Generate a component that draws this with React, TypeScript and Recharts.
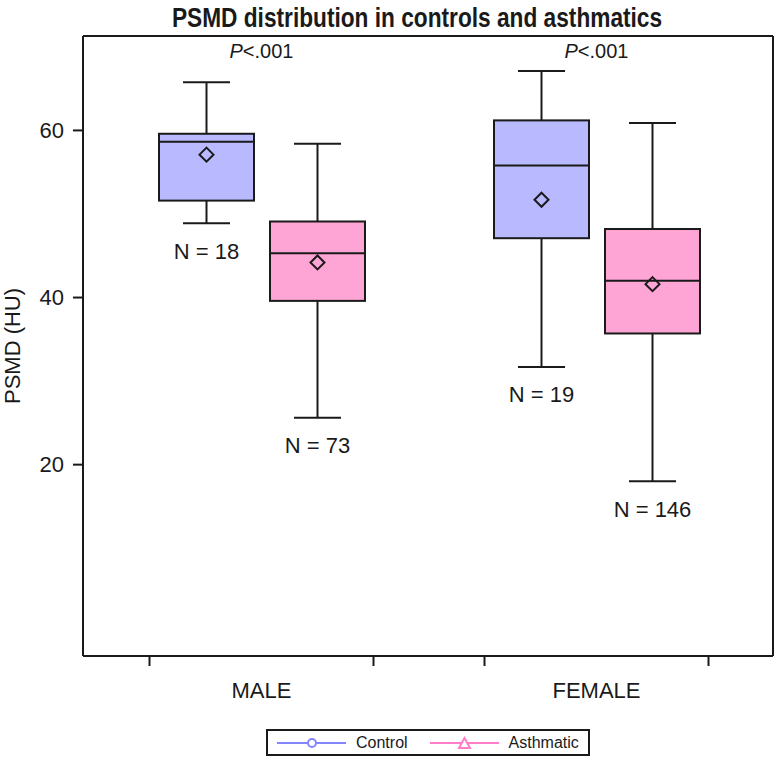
import React from "react";
import { Bar, ComposedChart, Legend, Line, XAxis, YAxis } from "recharts";

const groups = ["MALE", "FEMALE"];
const pLabels = [".001", ".001"];
const seriesNames = ["Control", "Asthmatic"];
const seriesFill = ["#B9B9FF", "#FFA5D5"];
const seriesLine = ["#8585FF", "#FF7DC9"];

const controlMin = [48.9, 31.7];
const controlQ1 = [51.6, 47.1];
const controlMedian = [58.65, 55.8];
const controlQ3 = [59.6, 61.2];
const controlMax = [65.75, 67.1];
const controlMean = [57.1, 51.7];
const controlN = [18, 19];

const asthmaMin = [25.6, 18.0];
const asthmaQ1 = [39.6, 35.7];
const asthmaMedian = [45.3, 42.0];
const asthmaQ3 = [49.1, 48.2];
const asthmaMax = [58.4, 60.9];
const asthmaMean = [44.2, 41.6];
const asthmaN = [73, 146];

const yTicks = [20, 40, 60];

const FONT = "'Liberation Sans', Arial, Helvetica, sans-serif";
const INK = "#1a1a1a";

const data = groups.map((sex, i) => ({
  sex,
  p: pLabels[i],
  control: {
    min: controlMin[i], q1: controlQ1[i], median: controlMedian[i],
    q3: controlQ3[i], max: controlMax[i], mean: controlMean[i], n: controlN[i],
  },
  asthmatic: {
    min: asthmaMin[i], q1: asthmaQ1[i], median: asthmaMedian[i],
    q3: asthmaQ3[i], max: asthmaMax[i], mean: asthmaMean[i], n: asthmaN[i],
  },
}));

const BoxShape = (props: any) => {
  const { x, y, width, height, payload, seriesKey, fill } = props;
  const s = payload[seriesKey];
  const top = Math.min(y, y + height);
  const bottom = Math.max(y, y + height);
  // linear scale between whisker ends, same as the axis scale
  const sy = (v: number) => top + ((bottom - top) * (s.max - v)) / (s.max - s.min);
  const cx = x + width / 2;
  const cap = 23.5;
  const d = 7;
  const my = sy(s.mean);
  return (
    <g>
      <line x1={cx} x2={cx} y1={sy(s.max)} y2={sy(s.q3)} stroke={INK} strokeWidth={2} />
      <line x1={cx} x2={cx} y1={sy(s.q1)} y2={sy(s.min)} stroke={INK} strokeWidth={2} />
      <line x1={cx - cap} x2={cx + cap} y1={sy(s.max)} y2={sy(s.max)} stroke={INK} strokeWidth={2} />
      <line x1={cx - cap} x2={cx + cap} y1={sy(s.min)} y2={sy(s.min)} stroke={INK} strokeWidth={2} />
      <rect x={x} y={sy(s.q3)} width={width} height={sy(s.q1) - sy(s.q3)} fill={fill} stroke={INK} strokeWidth={2} />
      <line x1={x} x2={x + width} y1={sy(s.median)} y2={sy(s.median)} stroke={INK} strokeWidth={2} />
      <polygon
        points={`${cx},${my - d} ${cx + d},${my} ${cx},${my + d} ${cx - d},${my}`}
        fill="none"
        stroke={INK}
        strokeWidth={2}
      />
      <text x={cx} y={sy(s.min) + 28} textAnchor="middle" dominantBaseline="central" fontSize={22} fontFamily={FONT} fill={INK}>
        N = {s.n}
      </text>
    </g>
  );
};

const BottomTick = (props: any) => {
  const { x, y, payload } = props;
  return (
    <g>
      <line x1={x - 112} x2={x - 112} y1={y - 10} y2={y} stroke={INK} strokeWidth={2} />
      <line x1={x + 112} x2={x + 112} y1={y - 10} y2={y} stroke={INK} strokeWidth={2} />
      <text x={x} y={y + 24} textAnchor="middle" dominantBaseline="central" fontSize={22} fontFamily={FONT} fill={INK}>
        {payload.value}
      </text>
    </g>
  );
};

const TopTick = (props: any) => {
  const { x, y, index } = props;
  return (
    <text x={x} y={y + 15} textAnchor="middle" dominantBaseline="central" fontSize={20} fontFamily={FONT} fill={INK}>
      <tspan fontStyle="italic">P</tspan>
      {"<" + pLabels[index]}
    </text>
  );
};

const LegendContent = (props: any) => {
  const payload = (props.payload ?? [])
    .filter((p: any) => seriesNames.includes(p.value))
    .sort((a: any, b: any) => seriesNames.indexOf(a.value) - seriesNames.indexOf(b.value));
  return (
    <div
      style={{
        boxSizing: "border-box", width: 324, height: 27, border: `2px solid ${INK}`,
        display: "flex", alignItems: "center", paddingLeft: 9, fontFamily: FONT,
        fontSize: 16, color: INK, background: "#fff",
      }}
    >
      {payload.map((p: any) => {
        const i = seriesNames.indexOf(p.value);
        return (
          <div key={p.value} style={{ display: "flex", alignItems: "center", marginRight: 22 }}>
            <svg width={69} height={14}>
              <line x1={0} x2={69} y1={7} y2={7} stroke={seriesLine[i]} strokeWidth={2} />
              {i === 0 ? (
                <circle cx={35} cy={7} r={4} fill="#fff" stroke={seriesLine[i]} strokeWidth={2} />
              ) : (
                <polygon points="34.5,2 40,12 29,12" fill="#fff" stroke={seriesLine[i]} strokeWidth={2} />
              )}
            </svg>
            <span style={{ marginLeft: 10 }}>{p.value}</span>
          </div>
        );
      })}
    </div>
  );
};

export default function App() {
  return (
    <div style={{ position: "relative", width: 776, height: 758, background: "#fff" }}>
      <style>{"body{margin:0}"}</style>
      <div
        style={{
          position: "absolute", top: 5, left: 0, width: 834, textAlign: "center",
          fontFamily: FONT, fontWeight: 700, fontSize: 27, lineHeight: "27px", color: INK,
          transform: "scaleX(0.84)", transformOrigin: "417px 0", zIndex: 1,
        }}
      >
        PSMD distribution in controls and asthmatics
      </div>
      <ComposedChart
        width={776}
        height={758}
        data={data}
        margin={{ top: 35, right: 2, bottom: 2, left: 0 }}
        barSize={95}
        barGap={16}
      >
        <XAxis
          dataKey="sex"
          padding={{ left: 11, right: 9 }}
          height={73}
          axisLine={{ stroke: INK, strokeWidth: 2 }}
          tickLine={false}
          tickSize={10}
          tickMargin={0}
          interval={0}
          tick={<BottomTick />}
        />
        <XAxis
          xAxisId="top"
          orientation="top"
          dataKey="sex"
          padding={{ left: 11, right: 9 }}
          height={1}
          axisLine={{ stroke: INK, strokeWidth: 2 }}
          tickLine={false}
          tickSize={0}
          tickMargin={0}
          interval={0}
          tick={<TopTick />}
        />
        <YAxis
          type="number"
          domain={[-2.9, 71.3]}
          ticks={yTicks}
          allowDataOverflow
          width={83}
          tickSize={10}
          tickMargin={9}
          axisLine={{ stroke: INK, strokeWidth: 2 }}
          tickLine={{ stroke: INK, strokeWidth: 2 }}
          tick={{ fontSize: 22, fill: INK, fontFamily: FONT }}
          label={{
            value: "PSMD (HU)", angle: -90, position: "insideLeft", offset: 12,
            style: { textAnchor: "middle", fontSize: 22, fill: INK, fontFamily: FONT },
          }}
        />
        <YAxis
          yAxisId="right"
          orientation="right"
          type="number"
          domain={[-2.9, 71.3]}
          allowDataOverflow
          width={1}
          tick={false}
          tickLine={false}
          axisLine={{ stroke: INK, strokeWidth: 2 }}
        />
        <Legend
          verticalAlign="bottom"
          content={<LegendContent />}
          wrapperStyle={{ left: 266, width: 324, bottom: 2, height: 27 }}
        />
        <Bar
          name={seriesNames[0]}
          dataKey={(d: any) => [d.control.min, d.control.max]}
          fill={seriesFill[0]}
          isAnimationActive={false}
          shape={(p: any) => <BoxShape {...p} seriesKey="control" fill={seriesFill[0]} />}
        />
        <Bar
          name={seriesNames[1]}
          dataKey={(d: any) => [d.asthmatic.min, d.asthmatic.max]}
          fill={seriesFill[1]}
          isAnimationActive={false}
          shape={(p: any) => <BoxShape {...p} seriesKey="asthmatic" fill={seriesFill[1]} />}
        />
        {/* invisible series so the frame axes (top / right) get drawn */}
        <Line
          xAxisId="top"
          yAxisId="right"
          dataKey={(d: any) => d.control.mean}
          stroke="none"
          dot={false}
          activeDot={false}
          legendType="none"
          isAnimationActive={false}
        />
      </ComposedChart>
    </div>
  );
}
